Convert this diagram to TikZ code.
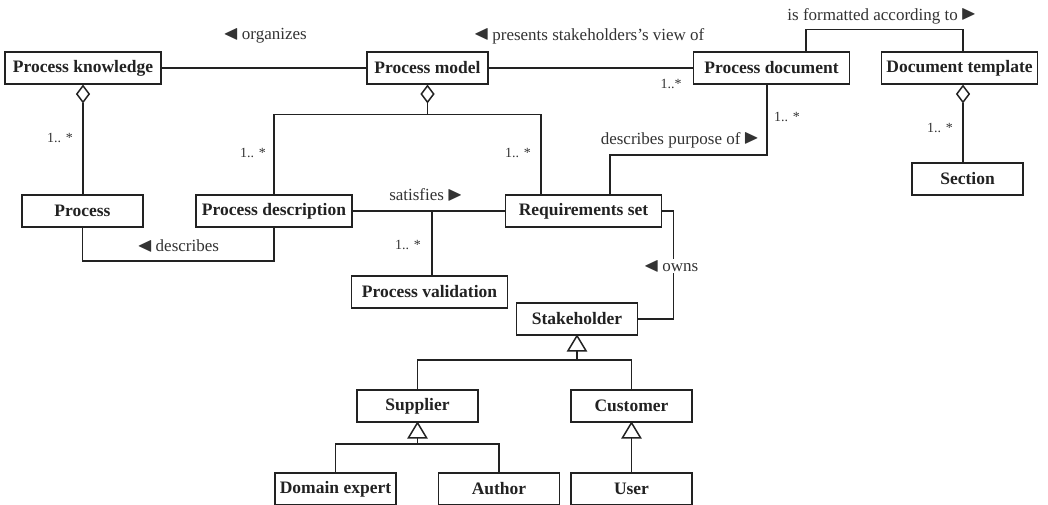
\documentclass[tikz,border=0pt]{standalone}
\usepackage{amssymb}
\usepackage{fontspec}
\setmainfont{Liberation Serif}
\usetikzlibrary{calc,shapes.geometric}
\definecolor{ink}{HTML}{222222}
\definecolor{lab}{HTML}{333333}
\newcommand{\lt}{\raisebox{0.3pt}{\scalebox{1.2}{$\blacktriangleleft$}}}
\newcommand{\rt}{\raisebox{0.3pt}{\scalebox{1.2}{$\blacktriangleright$}}}
\begin{document}
\begin{tikzpicture}[x=1pt,y=-1pt,
  cls/.style={draw=ink, line width=1.5pt, fill=white, minimum height=32pt, inner sep=0pt,
    text=ink, font=\bfseries\fontsize{17.5}{20}\selectfont},
  wide/.style={cls, minimum width=156pt},
  narrow/.style={cls, minimum width=121pt},
  lbl/.style={text=lab, font=\fontsize{17}{20}\selectfont, inner sep=1pt},
  mult/.style={text=lab, font=\fontsize{14}{17}\selectfont, inner sep=0pt},
  conn/.style={draw=ink, line width=1.5pt},
  agg/.style={diamond, draw=ink, fill=white, line width=1.5pt, inner sep=0pt,
    minimum width=13pt, minimum height=17pt, anchor=north},
  gen/.style={draw=ink, fill=white, line width=1.5pt, line join=miter},
]
\useasboundingbox (0,0) rectangle (1048,504);

% classes
\node[wide]   (pk)    at (83,68)     {Process knowledge};
\node[narrow] (pm)    at (427.5,68)  {Process model};
\node[wide]   (pdoc)  at (771.5,68)  {Process document};
\node[wide]   (dt)    at (959.5,68)  {Document template};
\node[cls, minimum width=111pt] (sec) at (967.5,179) {Section};
\node[narrow] (proc)  at (82.5,211)  {Process};
\node[wide]   (pdesc) at (274,211)   {Process description};
\node[wide]   (req)   at (583.5,211) {Requirements set};
\node[wide]   (pval)  at (429.5,292) {Process validation};
\node[narrow] (stk)   at (577,319)   {Stakeholder};
\node[narrow] (sup)   at (417.5,406) {Supplier};
\node[narrow] (cus)   at (631.5,406) {Customer};
\node[narrow] (dom)   at (335.5,489) {Domain expert};
\node[narrow] (aut)   at (499,489)   {Author};
\node[narrow] (usr)   at (631.5,489) {User};

% top row associations
\draw[conn] (pk) -- (pm);
\draw[conn] (pm) -- (pdoc);
\node[lbl] at (265,36) {\lt\,organizes};
\node[lbl] at (589,36) {\lt\,presents stakeholders's view of};
\node[mult] at (671,84) {1..*};

\draw[conn] ([xshift=34.5pt]pdoc.north) -- ++(0,-22) -| ([xshift=3.5pt]dt.north);
\node[lbl] at (882,16) {is formatted according to\,\rt};

% aggregations
\node[agg] (dpk) at (pk.south) {};
\draw[conn] (dpk.south) -- (dpk.south |- proc.north);
\node[mult] at (60,138) {1.. *};

\node[agg] (dpm) at (pm.south) {};
\coordinate (jpm) at ($(dpm.south)+(0,11)$);
\draw[conn] (dpm.south) -- (jpm);
\draw[conn] (pdesc.north) |- (jpm) -| ([xshift=-42.5pt]req.north);
\node[mult] at (253,153) {1.. *};
\node[mult] at (518,153) {1.. *};

\node[agg] (ddt) at ([xshift=3.5pt]dt.south) {};
\draw[conn] (ddt.south) -- (ddt.south |- sec.north);
\node[mult] at (940,128) {1.. *};

% document and requirements
\draw[conn] ([xshift=-4.5pt]pdoc.south) -- ++(0,70) -| ([xshift=26.5pt]req.north);
\node[lbl] at (680,140) {describes purpose of\,\rt};
\node[mult] at (787,117) {1.. *};

% process description
\draw[conn] (proc.south) -- ++(0,33) -| (pdesc.south);
\node[lbl] at (178,246) {\lt\,describes};

\draw[conn] (pdesc) -- (req);
\node[lbl] at (426,195) {satisfies\,\rt};
\coordinate (jv) at (432,211);
\draw[draw=ink, line width=2.6pt] (jv) -- (jv |- pval.north);
\draw[white, line width=0.5pt, dash pattern=on 1.2pt off 3pt] ([xshift=1pt,yshift=-3pt]jv) -- ([xshift=1pt]jv |- pval.north);
\node[mult] at (408,245) {1.. *};

% ownership
\draw[conn] (req.east) -- ++(11,0) |- (stk.east);
\node[lbl, fill=white] at (671,266) {\lt\,owns};

% generalizations
\coordinate (tstk) at ($(stk.south)+(0,15)$);
\coordinate (gstk) at ($(tstk)+(0,9)$);
\draw[conn] (tstk) -- (gstk);
\draw[conn] (sup.north) |- (gstk) -| (cus.north);
\draw[gen] (stk.south) -- ++(9,15) -- ++(-18,0) -- cycle;

\coordinate (tsup) at ($(sup.south)+(0,15)$);
\coordinate (gsup) at ($(tsup)+(0,6)$);
\draw[conn] (tsup) -- (gsup);
\draw[conn] (dom.north) |- (gsup) -| (aut.north);
\draw[gen] (sup.south) -- ++(9,15) -- ++(-18,0) -- cycle;

\coordinate (tcus) at ($(cus.south)+(0,15)$);
\draw[conn] (tcus) -- (usr.north);
\draw[gen] (cus.south) -- ++(9,15) -- ++(-18,0) -- cycle;
\end{tikzpicture}
\end{document}
